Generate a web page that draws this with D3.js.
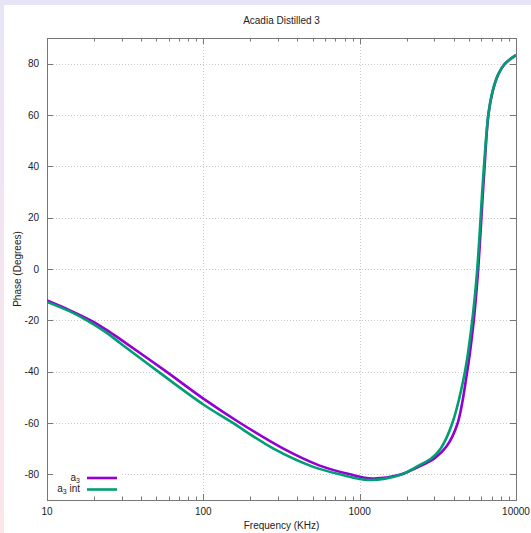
<!DOCTYPE html>
<html><head><meta charset="utf-8">
<script src="https://cdn.jsdelivr.net/npm/d3@7"></script>
<style>body{margin:0;background:#fff}svg{display:block;font-family:"Liberation Sans",Arial,sans-serif}</style>
</head><body>
<svg id="c" width="531" height="533"></svg>
<script>
const title = "Acadia Distilled 3";
const xLabel = "Frequency (KHz)";
const yLabel = "Phase (Degrees)";
const xTicks = [10, 100, 1000, 10000];
const yTicks = [-80, -60, -40, -20, 0, 20, 40, 60, 80];

const a3Freq  = [10, 14, 19, 24, 30, 58, 100, 172, 325, 550, 868, 1200, 1800, 2400, 3034, 3600, 4217, 4844, 5337, 5699, 6252, 6669, 7112, 7727, 8500, 10000];
const a3Phase = [-12.3, -16.1, -20.0, -23.7, -27.7, -40, -50.5, -60, -70, -76.5, -80, -81.6, -80.2, -77, -73.6, -69.1, -60.4, -41.1, -21.6, -2, 37, 60.4, 69.5, 76, 80, 83.3];

const intFreq  = [10, 14, 18, 24, 30, 51.5, 100, 150, 281, 500, 748, 1150, 1812, 2400, 2891, 3300, 3882, 4677, 5213, 5618, 6190, 6669, 7112, 7727, 8500, 10000];
const intPhase = [-12.8, -16.5, -20, -24.8, -29.3, -40, -52.8, -59.5, -70, -77, -80, -82.2, -80.3, -76.5, -73.6, -69.9, -60.7, -41.1, -21.6, -2, 37, 60.6, 69.7, 76, 80, 83.3];

const series = [
  {name: "a", sub: "3", extra: "", freq: a3Freq, phase: a3Phase, color: "#9400d3"},
  {name: "a", sub: "3", extra: " int", freq: intFreq, phase: intPhase, color: "#009e73"}
];

const svg = d3.select("#c");
const L = 47, R = 516, T = 38, B = 500;
const x = d3.scaleLog().domain([10, 10000]).range([L, R]);
const y = d3.scaleLinear().domain([-90, 90]).range([B, T]);

// page decoration bands
const defs = svg.append("defs");
const lg = defs.append("linearGradient").attr("id","lg").attr("x1",0).attr("y1",0).attr("x2",0).attr("y2",1);
lg.append("stop").attr("offset","0%").attr("stop-color","#e8e4f8");
lg.append("stop").attr("offset","100%").attr("stop-color","#fde6ea");
svg.append("rect").attr("x",0).attr("y",0).attr("width",531).attr("height",5).attr("fill","#e8e4f8");
svg.append("rect").attr("x",0).attr("y",0).attr("width",4).attr("height",533).attr("fill","url(#lg)");

// grid
const grid = svg.append("g").attr("stroke","#c8c8c8").attr("stroke-width",1).attr("stroke-dasharray","1,2");
yTicks.forEach(v => grid.append("line").attr("x1",L).attr("x2",R).attr("y1",Math.round(y(v))+0.5).attr("y2",Math.round(y(v))+0.5));
xTicks.slice(1,-1).forEach(v => grid.append("line").attr("y1",T).attr("y2",B).attr("x1",Math.round(x(v))+0.5).attr("x2",Math.round(x(v))+0.5));

// legend background (opaque key)
svg.append("rect").attr("x",52).attr("y",468).attr("width",70).attr("height",28).attr("fill","#fff");

// ticks
const tk = svg.append("g").attr("stroke","#777").attr("stroke-width",1);
const minor = [];
for (let d = 10; d < 10000; d *= 10) for (let m = 2; m <= 9; m++) minor.push(d*m);
minor.forEach(v => {
  const px = Math.round(x(v))+0.5;
  tk.append("line").attr("x1",px).attr("x2",px).attr("y1",B).attr("y2",B-3.5);
  tk.append("line").attr("x1",px).attr("x2",px).attr("y1",T).attr("y2",T+3.5);
});
xTicks.forEach(v => {
  const px = Math.round(x(v))+0.5;
  tk.append("line").attr("x1",px).attr("x2",px).attr("y1",B).attr("y2",B-6);
  tk.append("line").attr("x1",px).attr("x2",px).attr("y1",T).attr("y2",T+6);
});
yTicks.forEach(v => {
  const py = Math.round(y(v))+0.5;
  tk.append("line").attr("x1",L).attr("x2",L+6).attr("y1",py).attr("y2",py);
  tk.append("line").attr("x1",R).attr("x2",R-6).attr("y1",py).attr("y2",py);
});

// frame
svg.append("rect").attr("x",L+0.5).attr("y",T+0.5).attr("width",R-L).attr("height",B-T)
  .attr("fill","none").attr("stroke","#777").attr("stroke-width",1);

// tick labels
const tl = svg.append("g").attr("font-size",10).attr("fill","#222");
xTicks.forEach(v => tl.append("text").attr("x",x(v)).attr("y",B+15).attr("text-anchor","middle").text(v));
yTicks.forEach(v => tl.append("text").attr("x",L-8).attr("y",y(v)+3.5).attr("text-anchor","end").text(v));

// titles
svg.append("text").attr("x",(L+R)/2).attr("y",24).attr("text-anchor","middle").attr("font-size",10).attr("fill","#222").text(title);
svg.append("text").attr("x",(L+R)/2).attr("y",529).attr("text-anchor","middle").attr("font-size",10).attr("fill","#222").text(xLabel);
svg.append("text").attr("transform",`translate(21,${(T+B)/2}) rotate(-90)`).attr("text-anchor","middle").attr("font-size",10).attr("fill","#222").text(yLabel);

// curves
const line = d3.line().x(d => x(d[0])).y(d => y(d[1])).curve(d3.curveCatmullRom.alpha(0.5));
const clip = defs.append("clipPath").attr("id","pc");
clip.append("rect").attr("x",L).attr("y",T).attr("width",R-L).attr("height",B-T);
series.forEach(s => {
  const pts = s.freq.map((f,i) => [f, s.phase[i]]);
  svg.append("path").datum(pts).attr("d",line).attr("fill","none")
    .attr("stroke",s.color).attr("stroke-width",2.6).attr("stroke-linejoin","round").attr("clip-path","url(#pc)");
});

// legend
series.forEach((s,i) => {
  const ly = 478 + i*11.5;
  const t = svg.append("text").attr("x",80).attr("y",ly+2.5).attr("text-anchor","end").attr("font-size",10).attr("fill","#222");
  t.append("tspan").text(s.name);
  t.append("tspan").attr("font-size",7).attr("dy",2).text(s.sub);
  if (s.extra) t.append("tspan").attr("dy",-2).text(s.extra);
  svg.append("line").attr("x1",87).attr("x2",117).attr("y1",ly).attr("y2",ly).attr("stroke",s.color).attr("stroke-width",2.6);
});
</script>
</body></html>
